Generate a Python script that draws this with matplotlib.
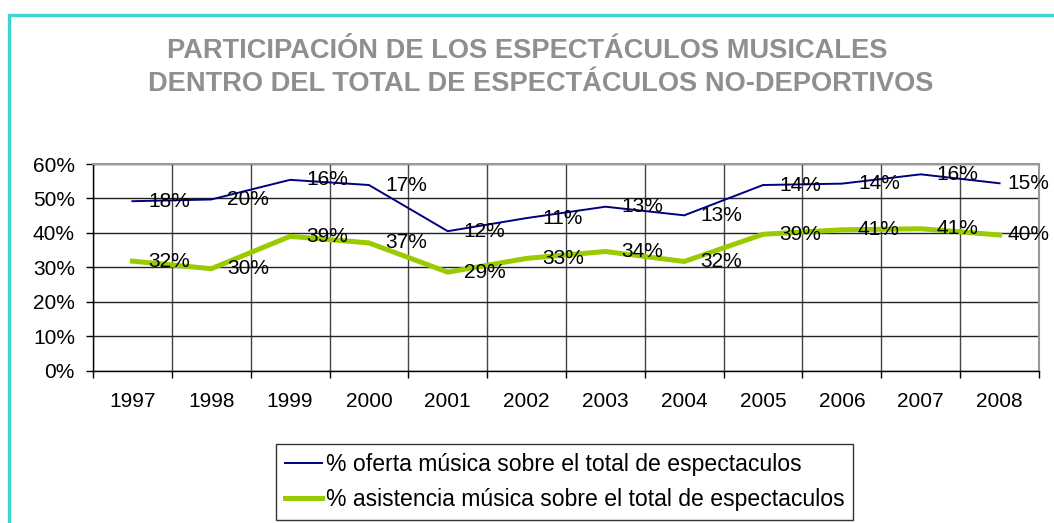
import matplotlib
matplotlib.use("Agg")
import matplotlib.pyplot as plt
from matplotlib.patches import Rectangle
from matplotlib.ticker import FuncFormatter, FixedLocator

years = ["1997", "1998", "1999", "2000", "2001", "2002", "2003", "2004", "2005", "2006", "2007", "2008"]
oferta = [49.2, 49.7, 55.4, 53.9, 40.5, 44.3, 47.6, 45.1, 53.9, 54.3, 57.0, 54.4]
asistencia = [31.8, 29.6, 39.0, 37.1, 28.6, 32.6, 34.6, 31.7, 39.6, 40.9, 41.2, 39.4]
oferta_labels = ["18%", "20%", "16%", "17%", "12%", "11%", "13%", "13%", "14%", "14%", "16%", "15%"]
asistencia_labels = ["32%", "30%", "39%", "37%", "29%", "33%", "34%", "32%", "39%", "41%", "41%", "40%"]
title_lines = ["PARTICIPACIÓN DE LOS ESPECTÁCULOS MUSICALES",
               "DENTRO DEL TOTAL DE ESPECTÁCULOS NO-DEPORTIVOS"]
legend_labels = ["% oferta música sobre el total de espectaculos",
                 "% asistencia música sobre el total de espectaculos"]

plt.rcParams['font.family'] = ['Liberation Sans', 'DejaVu Sans']

W, H = 1054, 523
fig = plt.figure(figsize=(W / 100, H / 100), dpi=100)

# turquoise frame
fig.add_artist(Rectangle((9 / W, -0.1), 1.2, 1 - 15.5 / H + 0.1, transform=fig.transFigure,
                         fill=False, edgecolor="#3dd5d0", linewidth=2.4))

ax = fig.add_axes([93 / W, 1 - 370.7 / H, (1039 - 93) / W, (370.7 - 164) / H])
x = list(range(len(years)))

ax.plot(x, oferta, color="#000080", linewidth=1.4, label=legend_labels[0], zorder=3)
ax.plot(x, asistencia, color="#99cc00", linewidth=3.6, label=legend_labels[1], zorder=3)

n = len(years)
for i in range(n):
    off = 16 if i < n - 1 else 8
    ax.annotate(oferta_labels[i], (x[i], oferta[i]), xytext=(off, 0), textcoords="offset pixels",
                ha="left", va="center", fontsize=15, color="black", zorder=4, annotation_clip=False)
    ax.annotate(asistencia_labels[i], (x[i], asistencia[i]), xytext=(off, 0), textcoords="offset pixels",
                ha="left", va="center", fontsize=15, color="black", zorder=4, annotation_clip=False)

ax.set_xlim(-0.5, n - 0.5)
ax.set_ylim(0, 60)
ax.set_yticks(range(0, 61, 10))
ax.yaxis.set_major_formatter(FuncFormatter(lambda v, p: f"{int(v)}%"))
ax.set_xticks(x)
ax.set_xticklabels(years)
ax.xaxis.set_minor_locator(FixedLocator([i - 0.5 for i in range(n + 1)]))

ax.tick_params(axis="x", which="major", length=0, pad=15, labelsize=15)
ax.tick_params(axis="x", which="minor", length=5, width=1, color="black", direction="out")
ax.tick_params(axis="y", which="major", length=5, width=1, color="black", pad=8, labelsize=15)

ax.grid(True, axis="y", which="major", color="#222222", linewidth=1)
ax.grid(True, axis="x", which="minor", color="#444444", linewidth=1)
ax.set_axisbelow(True)

for s in ["left", "bottom"]:
    ax.spines[s].set_color("black")
    ax.spines[s].set_linewidth(1)
for s in ["top", "right"]:
    ax.spines[s].set_color("#999999")
    ax.spines[s].set_linewidth(1.5)

fig.text(527.5 / W, 1 - 51 / H, title_lines[0], ha="center", va="center", fontsize=19.6,
         fontweight="bold", color="#8f8f8f")
fig.text(541 / W, 1 - 84 / H, title_lines[1], ha="center", va="center", fontsize=19.6,
         fontweight="bold", color="#8f8f8f")

handles, labels = ax.get_legend_handles_labels()
leg = fig.legend(handles, labels, loc="upper left", bbox_to_anchor=(276 / W, 1 - 444 / H),
                 bbox_transform=fig.transFigure, fontsize=16.6, frameon=True, fancybox=False,
                 edgecolor="black", handlelength=1.6, handletextpad=0.15, borderpad=0.4,
                 labelspacing=0.5, borderaxespad=0)
leg.get_frame().set_linewidth(1)

fig.savefig("out.png", dpi=100, facecolor="white")
